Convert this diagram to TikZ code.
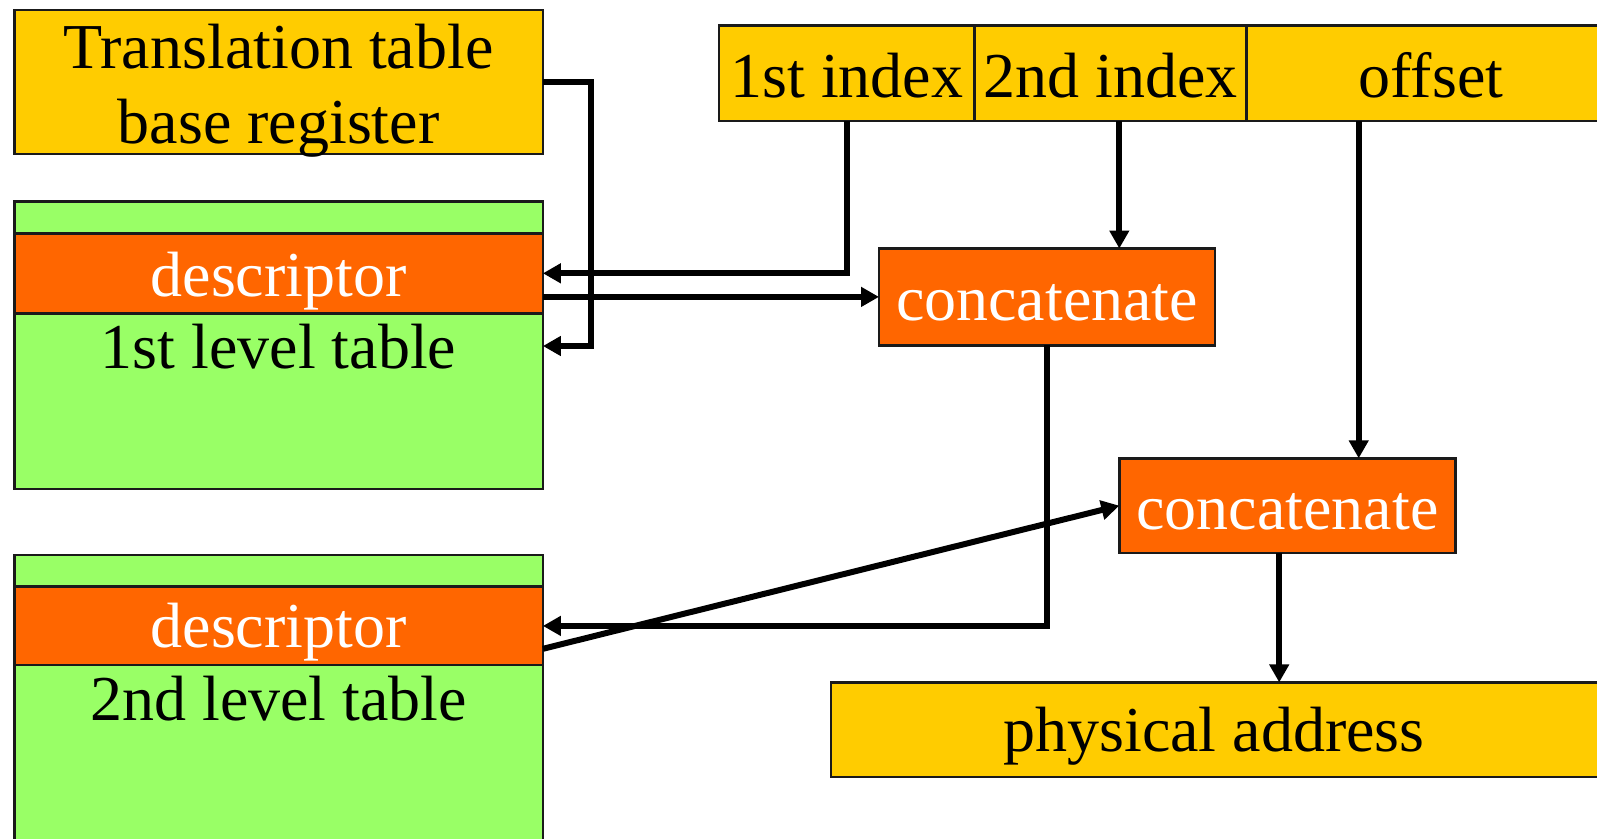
\documentclass[tikz,border=0pt]{standalone}
\usepackage{fontspec}
\setmainfont{Liberation Serif}
\usetikzlibrary{arrows.meta}
\definecolor{ylw}{HTML}{FFCC00}
\definecolor{org}{HTML}{FF6600}
\definecolor{grn}{HTML}{99FF66}
\definecolor{edgec}{HTML}{1A1A1A}
\begin{document}
\begin{tikzpicture}[x=1pt,y=-1pt,
  box/.style={draw=edgec, line width=2.5pt, anchor=north west, inner sep=0pt, outer sep=0pt},
  yelbox/.style={box, fill=ylw},
  orgbox/.style={box, fill=org},
  grnbox/.style={box, fill=grn},
  lbl/.style={anchor=base, inner sep=0pt, font=\fontsize{64}{76}\selectfont},
  wlbl/.style={lbl, text=white},
  wire/.style={line width=6pt, draw=black},
  conn/.style={wire, -{Triangle[length=18pt,width=19pt]}}]
\useasboundingbox (0,0) rectangle (1597,838);
\fill[white] (0,0) rectangle (1597,838);

% translation table base register
\node[yelbox, minimum width=528.6pt, minimum height=143.6pt] (ttbr) at (14.3,10.2) {};
\node[lbl] (ttbrA) at (278.6,68.2) {Translation table};
\node[lbl] (ttbrB) at (278.6,143.6) {base register};

% 1st level table
\node[grnbox, minimum width=528.6pt, minimum height=287.2pt] (l1) at (14.3,201.7) {};
\node[orgbox, minimum width=528.6pt, minimum height=80pt] (d1) at (14.3,233.3) {};
\node[wlbl] (d1t) at (278.6,296.4) {descriptor};
\node[lbl] (l1t) at (278.6,368.7) {1st level table};

% 2nd level table
\node[grnbox, minimum width=528.6pt, minimum height=300pt] (l2) at (14.3,555.1) {};
\node[orgbox, minimum width=528.6pt, minimum height=78.4pt] (d2) at (14.3,586.7) {};
\node[wlbl] (d2t) at (278.6,647.8) {descriptor};
\node[lbl] (l2t) at (278.6,720) {2nd level table};

% virtual address
\node[yelbox, minimum width=255.7pt, minimum height=95.7pt] (idx1) at (719,25.5) {};
\node[yelbox, minimum width=271.9pt, minimum height=95.7pt] (idx2) at (974.7,25.5) {};
\node[yelbox, minimum width=369pt, minimum height=95.7pt] (off) at (1246.6,25.5) {};
\node[lbl] (idx1t) at (846.8,97.8) {1st index};
\node[lbl] (idx2t) at (1110.6,97.8) {2nd index};
\node[lbl] (offt) at (1431,97.8) {offset};

% concatenate boxes
\node[orgbox, minimum width=336pt, minimum height=96.8pt] (cat1) at (879,248.5) {};
\node[wlbl] (cat1t) at (1047,320.8) {concatenate};
\node[orgbox, minimum width=336.1pt, minimum height=94.7pt] (cat2) at (1119.3,458.3) {};
\node[wlbl] (cat2t) at (1287.4,529.6) {concatenate};

% physical address
\node[yelbox, minimum width=780pt, minimum height=94.7pt] (phys) at (831,682.4) {};
\node[lbl] (physt) at (1214,751.7) {physical address};

% helper coordinates
\coordinate (tb) at (590.7,346);
\coordinate (o1) at (1358.7,121.2);
\coordinate (i2) at (1119.3,121.2);
\coordinate (c2s) at (1279.2,553);
\coordinate (d2out) at (542.9,648.8);

% connectors
\draw[conn] (ttbr.east) -| (tb) -- (tb -| l1.east);
\draw[conn] (idx1.south) |- (d1.east);
\draw[conn] (d1.east |- cat1.west) -- (cat1.west);
\draw[conn] (i2) -- (i2 |- cat1.north);
\draw[conn] (o1) -- (o1 |- cat2.north);
\draw[conn] (cat1.south) |- (d2.east);
\draw[conn] (d2out) -- (cat2.west);
\draw[conn] (c2s) -- (c2s |- phys.north);
\end{tikzpicture}
\end{document}
